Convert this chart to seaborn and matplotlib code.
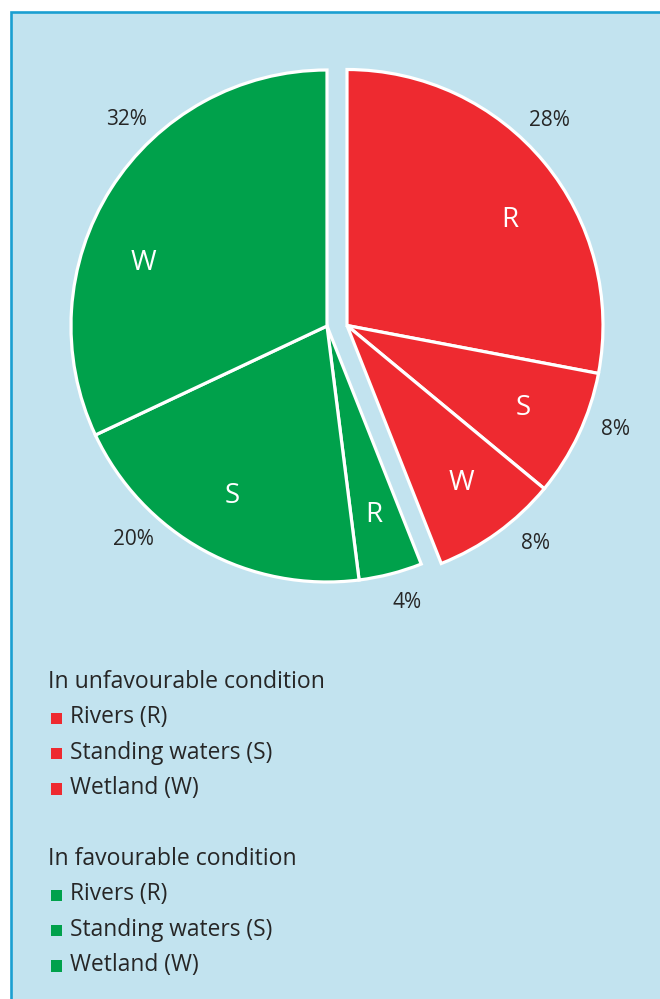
import matplotlib
matplotlib.use("Agg")
import matplotlib.pyplot as plt
from matplotlib.patches import Rectangle
import numpy as np
import seaborn as sns

# Share of water-habitat features by condition
conditions = ["unfavourable", "unfavourable", "unfavourable",
              "favourable", "favourable", "favourable"]
codes = ["R", "S", "W", "R", "S", "W"]
shares = [28, 8, 8, 4, 20, 32]
habitat_names = ["Rivers (R)", "Standing waters (S)", "Wetland (W)"]
group_titles = {"unfavourable": "In unfavourable condition",
                "favourable": "In favourable condition"}

RED = "#ee2a30"
GREEN = "#00a14b"
BG = "#c2e3ef"
FRAME = "#1a9fd1"
INK = "#262626"
palette = {"unfavourable": RED, "favourable": GREEN}

sns.set_theme(style="white")
plt.rcParams["font.family"] = ["Open Sans", "DejaVu Sans"]

W, H = 660, 999
fig = plt.figure(figsize=(W / 100, H / 100), dpi=100, facecolor="white")
ax = fig.add_axes([0, 0, 1, 1])

# Pixel-like coordinate system, y measured upward
def py(y):
    return H - y

centre = np.array([327.0, py(326)])
radius = 256
shift = np.array([20.0, 0.5])  # unfavourable wedges are pulled out to the right

wedges, _ = ax.pie(
    shares,
    colors=[palette[c] for c in conditions],
    startangle=90,
    counterclock=False,
    center=tuple(centre),
    radius=radius,
    wedgeprops=dict(edgecolor="white", linewidth=2.3),
    frame=True,
)
for w, cond in zip(wedges, conditions):
    if cond == "unfavourable":
        w.set_center(tuple(centre + shift))
    w.set_zorder(3)

# Label placement (clockwise degrees from 12 o'clock, radius fraction)
letter_angles = [57, 115, 144, 166, 209, 289]
letter_dist = 0.76
pct_angles = [44.7, 111.2, 139.2, 163.9, 222.2, 315.8]
pct_dist = 1.125

for cond, code, share, la, pa in zip(conditions, codes, shares, letter_angles, pct_angles):
    c = centre + shift if cond == "unfavourable" else centre
    a = np.deg2rad(la)
    ax.text(c[0] + letter_dist * radius * np.sin(a), c[1] + letter_dist * radius * np.cos(a),
            code, color="white", fontsize=20, ha="center", va="center", zorder=5)
    a = np.deg2rad(pa)
    ax.text(c[0] + pct_dist * radius * np.sin(a), c[1] + pct_dist * radius * np.cos(a),
            f"{share}%", color=INK, fontsize=15, ha="center", va="center", zorder=5)

# Legend blocks
legend_top = {"unfavourable": 682, "favourable": 859}
row_gap = 35.3
sq = 11.5
for cond in ["unfavourable", "favourable"]:
    y0 = legend_top[cond]
    ax.text(48, py(y0), group_titles[cond], color=INK, fontsize=16.6,
            ha="left", va="center", zorder=5)
    for i, name in enumerate(habitat_names):
        yy = py(y0 + row_gap * (i + 1))
        ax.add_patch(Rectangle((50.5, yy - sq / 2 - 1), sq, sq, facecolor=palette[cond],
                               edgecolor="none", zorder=5))
        ax.text(70, yy, name, color=INK, fontsize=16.4, ha="left", va="center", zorder=5)

# Panel background and frame
ax.add_patch(Rectangle((10.5, -20), W + 40, py(12) + 20, facecolor=BG,
                       edgecolor=FRAME, linewidth=1.9, zorder=0))

ax.set_xlim(0, W)
ax.set_ylim(0, H)
ax.set_aspect("auto")
ax.set_facecolor("white")
ax.axis("off")

fig.savefig("out.png", dpi=100, facecolor="white")
